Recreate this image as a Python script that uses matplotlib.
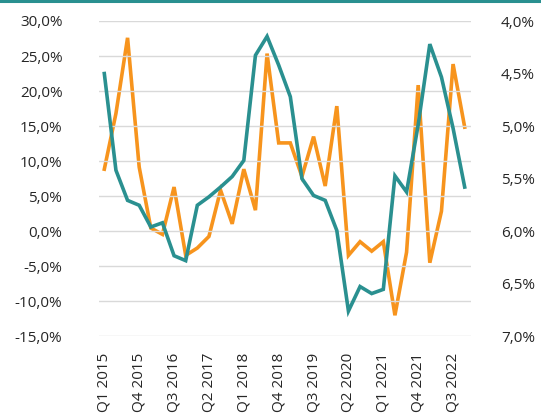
import matplotlib
matplotlib.use("Agg")
import matplotlib.pyplot as plt
from matplotlib.lines import Line2D

quarters = [f"Q{q} {y}" for y in range(2015, 2023) for q in range(1, 5)]

growth = [22.5, 8.7, 4.4, 3.7, 0.6, 1.2, -3.5, -4.2,
          3.7, 4.9, 6.3, 7.8, 10.1, 25.1, 27.8, 23.7,
          19.2, 7.5, 5.1, 4.4, 0.1, -11.4, -7.9, -8.9,
          -8.3, 7.9, 5.6, 15.2, 26.7, 22.0, 14.7, 6.3]

rate = [5.41, 4.88, 4.16, 5.39, 5.97, 6.03, 5.58, 6.23,
        6.16, 6.05, 5.61, 5.93, 5.41, 5.80, 4.31, 5.16,
        5.16, 5.48, 5.10, 5.57, 4.81, 6.23, 6.10, 6.19,
        6.10, 6.80, 6.20, 4.61, 6.30, 5.81, 4.41, 5.01]

left_ticks = [30, 25, 20, 15, 10, 5, 0, -5, -10, -15]
right_ticks = [4.0, 4.5, 5.0, 5.5, 6.0, 6.5, 7.0]

teal = "#2a9090"
orange = "#f7941d"
grid = "#d9d9d9"
txt = "#262626"

plt.rcParams['font.family'] = ['Open Sans', 'DejaVu Sans']

fig = plt.figure(figsize=(5.41, 4.18), dpi=100)
ax = fig.add_axes([98.5 / 541, 1 - 336.3 / 418, (470.5 - 98.5) / 541, (336.3 - 21) / 418])
ax2 = ax.twinx()

x = list(range(len(quarters)))
ax.plot(x, growth, color=teal, lw=2.6, solid_joinstyle='miter', zorder=3)
ax2.plot(x, rate, color=orange, lw=2.6, solid_joinstyle='miter', zorder=3)

ax.set_xlim(-0.5, len(quarters) - 0.5)
ax.set_ylim(-15, 30)
ax2.set_ylim(7.0, 4.0)

ax.set_yticks(left_ticks)
ax.set_yticklabels([f"{v:.1f}%".replace('.', ',') for v in left_ticks])
ax2.set_yticks(right_ticks)
ax2.set_yticklabels([f"{v:.1f}%".replace('.', ',') for v in right_ticks])

tick_pos = x[::3]
ax.set_xticks(tick_pos)
ax.set_xticklabels([quarters[i] for i in tick_pos], rotation=90)

ax.grid(axis='y', color=grid, lw=1.0)
ax.set_axisbelow(True)
for a in (ax, ax2):
    for s in a.spines.values():
        s.set_visible(False)

ax.tick_params(axis='y', length=0, pad=26, labelsize=11, labelcolor=txt)
ax.tick_params(axis='x', length=0, pad=12, labelsize=11, labelcolor=txt)
ax2.tick_params(axis='y', length=0, pad=22, labelsize=11, labelcolor=txt)

ax.set_zorder(ax2.get_zorder() + 1)
ax.patch.set_visible(False)

fig.add_artist(Line2D([0, 1], [1 - 1.2 / 418, 1 - 1.2 / 418], color=teal, lw=2.2,
                      transform=fig.transFigure))

fig.savefig("out.png", dpi=100)
